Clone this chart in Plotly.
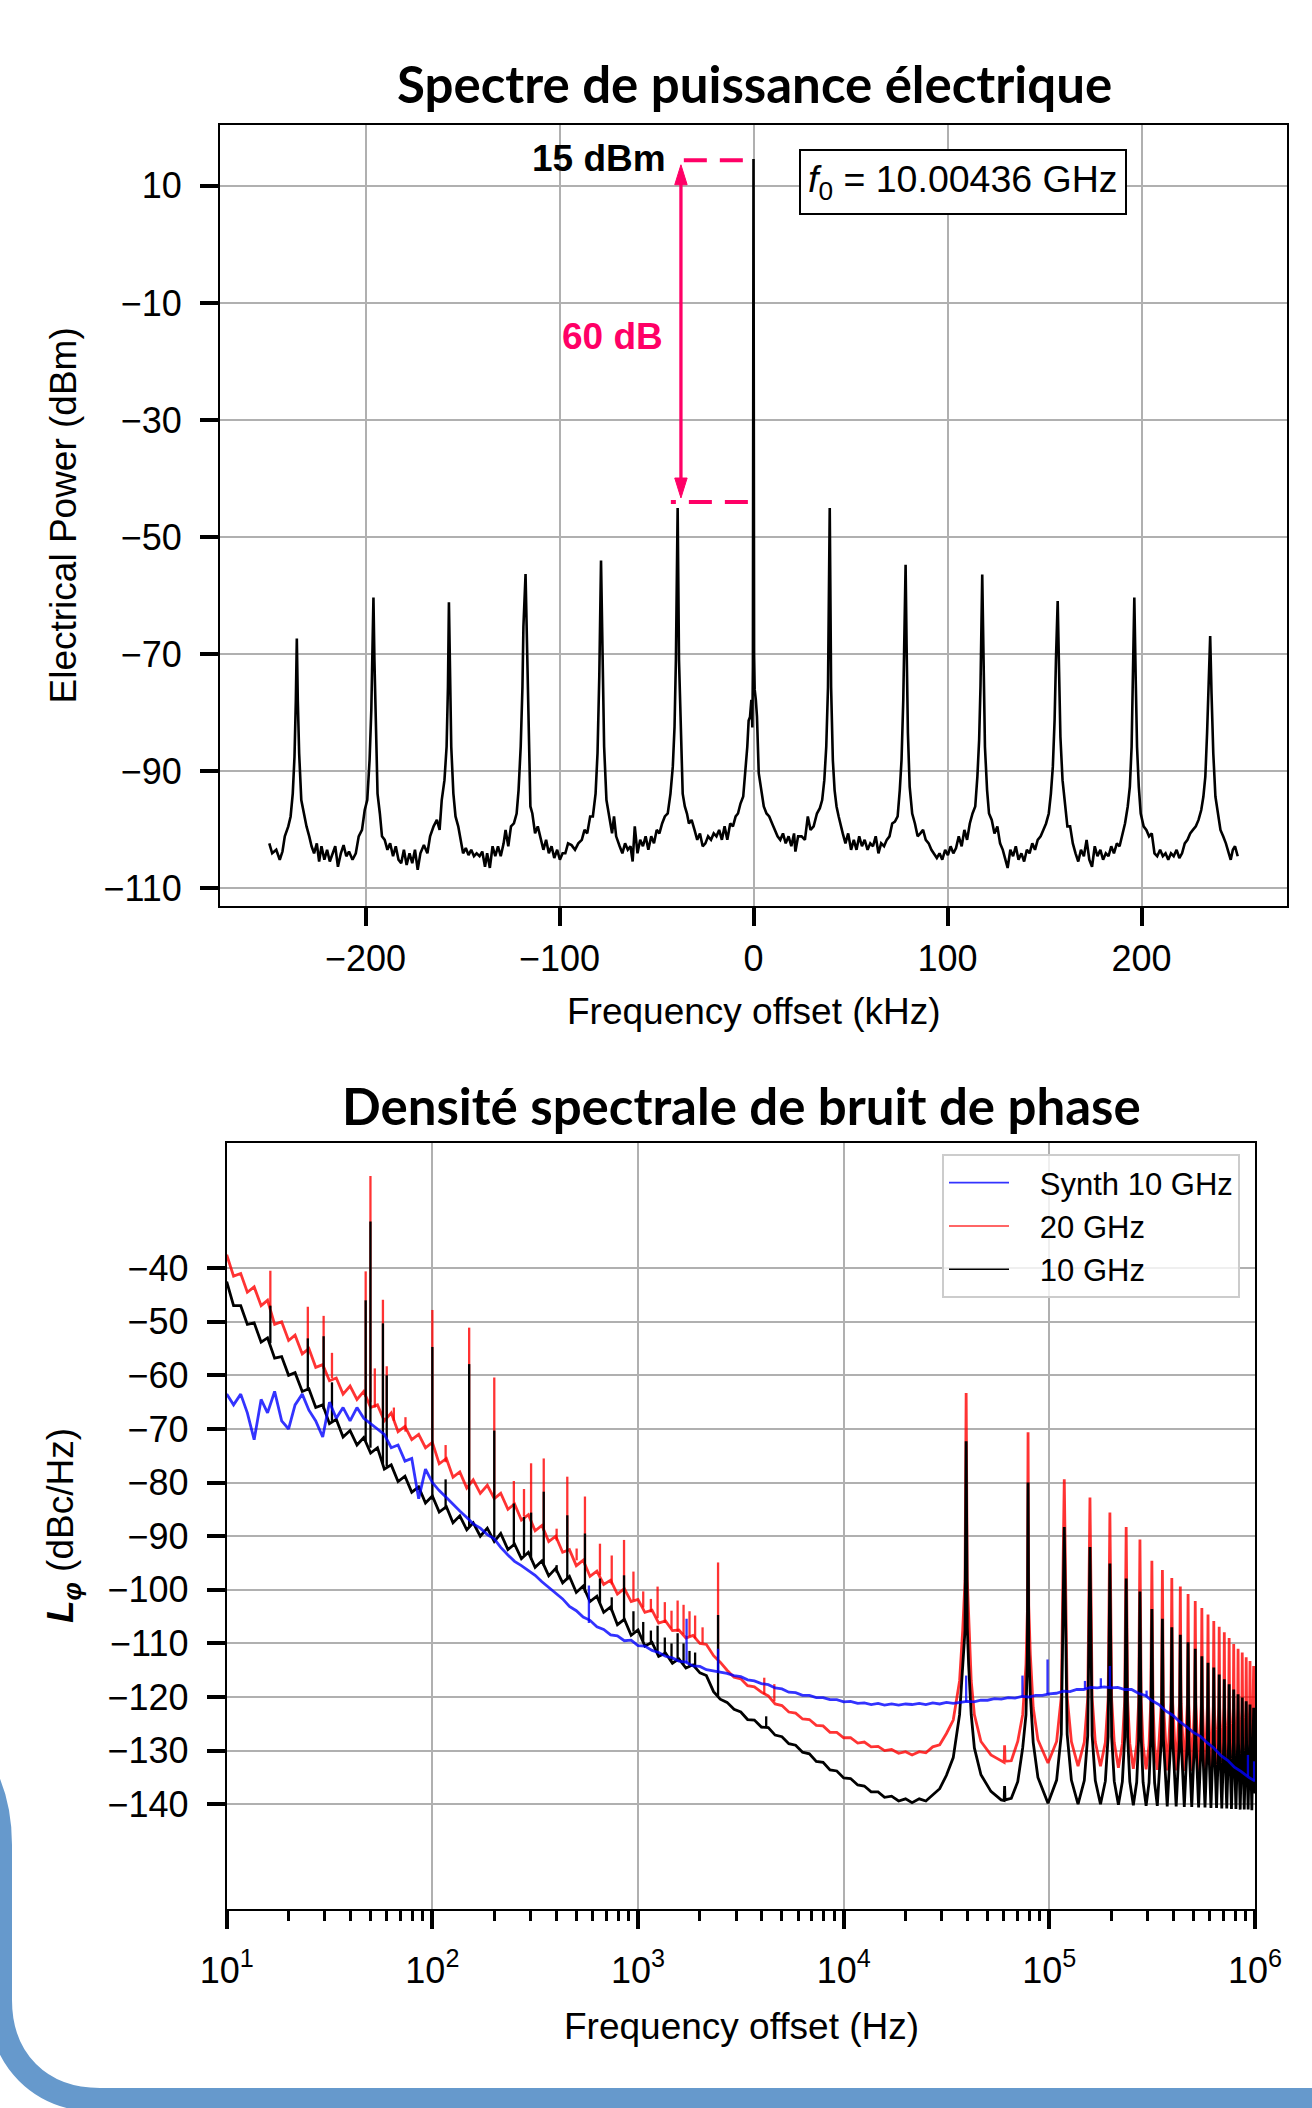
import plotly.graph_objects as go

W, H = 1312, 2108
SANS = "Liberation Sans, Arial, sans-serif"
TITLE_FONT = "Lato, Open Sans, sans-serif"
PINK = "#ff0066"
RED = "rgba(255,0,0,0.8)"
BLUE = "rgba(0,0,255,0.8)"
BLACK = "black"

# ---------------- Top panel: electrical power spectrum ----------------
top_offset_khz = [
    -249.6, -248.1, -246.0, -244.2, -242.8, -241.6, -239.8, -238.6, -237.5, -236.6,
    -235.9, -235.4, -234.9, -234.2, -233.1, -231.9, -230.4, -229.0, -227.8, -226.5,
    -225.1, -223.9, -222.7, -221.2, -219.8, -218.4, -217.0, -215.6, -214.2, -212.7,
    -211.3, -209.9, -208.5, -206.7, -205.0, -203.5, -201.8, -200.4, -199.1, -197.9,
    -197.0, -196.5, -195.9, -195.4, -194.7, -193.8, -192.6, -191.5, -190.1, -188.7,
    -187.3, -185.8, -184.4, -183.0, -181.6, -180.2, -178.8, -177.3, -175.9, -174.5,
    -173.1, -171.7, -169.9, -168.1, -166.7, -164.9, -163.2, -161.8, -160.7, -159.3,
    -158.2, -157.5, -157.0, -156.5, -155.8, -154.7, -153.6, -152.2, -150.8, -149.7,
    -148.3, -146.9, -145.5, -144.1, -142.7, -141.2, -139.8, -138.4, -137.3, -135.9,
    -134.5, -133.1, -131.7, -130.3, -128.8, -127.8, -126.4, -125.0, -123.5, -122.1,
    -121.1, -120.0, -119.1, -118.6, -117.5, -116.8, -116.1, -115.0, -114.0, -112.6,
    -111.2, -109.7, -108.3, -106.9, -105.5, -104.1, -102.7, -101.2, -99.8, -98.4,
    -97.0, -95.6, -93.8, -92.0, -90.3, -88.5, -87.1, -85.7, -84.2, -82.8,
    -81.4, -80.4, -79.5, -78.6, -77.9, -77.0, -75.8, -74.3, -72.9, -71.9,
    -70.8, -69.0, -67.6, -66.2, -64.8, -63.4, -62.3, -61.2, -59.8, -58.4,
    -57.0, -55.6, -54.2, -52.7, -51.3, -49.9, -48.5, -47.1, -45.7, -44.2,
    -42.8, -41.6, -40.7, -40.0, -39.1, -38.4, -37.5, -36.5, -35.4, -34.3,
    -33.3, -31.9, -30.4, -29.0, -27.6, -26.2, -24.8, -23.4, -21.9, -20.5,
    -19.1, -17.7, -16.3, -14.9, -13.5, -12.0, -10.6, -9.2, -8.0, -6.7,
    -5.3, -4.2, -3.2, -2.5, -1.8, -1.1, -0.6, -0.3, 0.0, 0.3,
    0.6, 1.2, 1.8, 2.7, 3.9, 5.3, 6.7, 8.1, 9.6, 11.0,
    12.4, 13.8, 15.2, 16.6, 18.1, 19.5, 20.9, 21.6, 23.0, 24.8,
    26.5, 28.0, 29.4, 31.0, 32.7, 34.2, 35.4, 36.5, 37.5, 38.4,
    39.3, 40.0, 40.9, 41.8, 42.8, 43.9, 45.0, 46.0, 47.4, 48.8,
    50.3, 51.7, 53.1, 54.5, 55.9, 57.3, 58.8, 60.2, 61.6, 63.0,
    64.4, 65.8, 67.3, 68.7, 70.1, 71.5, 72.9, 74.3, 75.4, 76.3,
    77.2, 77.9, 78.4, 78.9, 79.6, 80.5, 81.8, 83.2, 84.6, 86.0,
    87.4, 88.8, 90.3, 91.7, 93.1, 94.5, 95.9, 97.3, 98.8, 100.2,
    101.6, 103.0, 104.4, 105.8, 107.3, 108.7, 110.1, 111.5, 112.9, 114.3,
    115.4, 116.3, 117.0, 117.9, 118.6, 119.3, 120.4, 121.4, 122.8, 124.2,
    125.7, 127.1, 128.5, 129.9, 131.0, 132.4, 133.8, 135.2, 136.6, 138.1,
    139.5, 140.9, 142.3, 143.7, 145.1, 146.5, 148.0, 149.4, 150.8, 152.2,
    153.3, 154.3, 155.2, 155.9, 156.8, 157.5, 158.2, 159.3, 160.4, 161.8,
    163.2, 164.6, 166.0, 167.4, 168.8, 170.3, 171.7, 173.1, 174.5, 175.9,
    177.3, 178.8, 180.2, 181.6, 183.0, 184.4, 185.8, 187.3, 188.7, 190.1,
    191.5, 192.9, 194.0, 194.9, 195.6, 196.3, 197.0, 197.7, 198.6, 199.6,
    201.1, 202.5, 203.9, 205.3, 206.7, 208.1, 209.6, 211.0, 212.4, 213.8,
    215.2, 216.6, 218.1, 219.5, 220.9, 222.3, 223.7, 225.1, 226.5, 228.0,
    229.4, 230.8, 231.9, 232.9, 233.8, 234.5, 235.4, 236.1, 237.0, 238.1,
    239.3, 240.7, 242.1, 243.5, 245.0, 246.0, 247.1, 248.2, 249.6,
]
top_power_dbm = [
    -102.3, -104.0, -103.4, -105.1, -103.7, -101.1, -99.4, -97.7, -93.8, -87.5,
    -77.8, -67.3, -77.8, -86.9, -94.9, -97.2, -99.4, -101.1, -102.8, -104.0,
    -102.3, -105.4, -102.8, -105.1, -103.4, -105.4, -104.0, -102.8, -106.3, -104.0,
    -102.6, -104.5, -103.7, -105.1, -104.0, -101.1, -100.0, -96.6, -94.9, -88.1,
    -79.5, -70.0, -60.3, -71.0, -83.5, -93.8, -97.2, -101.1, -101.7, -103.4,
    -102.3, -104.5, -102.8, -105.1, -105.7, -103.4, -106.0, -104.0, -105.7, -103.4,
    -106.8, -104.0, -102.6, -104.0, -101.1, -99.4, -98.3, -100.0, -94.9, -91.5,
    -85.8, -75.6, -61.1, -75.6, -85.8, -93.8, -97.7, -99.4, -101.7, -104.0,
    -103.1, -104.3, -103.4, -104.5, -104.0, -104.5, -103.7, -106.3, -104.0, -106.5,
    -102.8, -104.5, -102.8, -104.5, -102.3, -100.0, -102.8, -99.4, -98.9, -97.2,
    -93.2, -85.8, -75.6, -65.3, -56.3, -68.2, -81.3, -96.0, -97.2, -100.6,
    -99.4, -101.7, -103.4, -101.7, -104.0, -102.8, -104.8, -103.4, -105.1, -104.0,
    -104.0, -102.3, -102.6, -103.4, -102.3, -101.7, -100.0, -100.6, -97.7, -97.7,
    -93.8, -86.9, -73.9, -54.0, -71.0, -85.8, -94.9, -97.7, -100.6, -97.7,
    -101.1, -102.8, -104.0, -102.3, -103.4, -102.8, -105.4, -99.4, -104.0, -101.7,
    -102.8, -101.1, -103.4, -101.1, -102.3, -100.0, -100.6, -98.9, -97.7, -97.2,
    -93.8, -89.2, -82.4, -71.0, -45.0, -71.0, -84.1, -93.8, -96.0, -97.2,
    -98.9, -98.3, -100.0, -101.7, -100.6, -102.8, -102.3, -101.1, -101.7, -100.6,
    -101.1, -100.0, -101.7, -99.4, -101.7, -98.9, -99.4, -97.7, -97.2, -95.5,
    -94.3, -90.3, -85.8, -81.3, -80.7, -77.8, -82.5, -72.0, 14.6, -70.0,
    -76.0, -77.8, -80.7, -90.3, -93.2, -96.0, -97.2, -97.7, -98.9, -100.0,
    -101.1, -101.7, -100.6, -102.3, -101.1, -102.8, -100.6, -103.7, -101.1, -101.1,
    -101.7, -97.7, -100.0, -99.4, -97.2, -96.3, -94.9, -91.5, -85.8, -75.6,
    -45.0, -75.6, -88.1, -93.2, -96.0, -97.7, -99.4, -100.6, -102.3, -100.6,
    -103.4, -101.7, -103.4, -101.1, -102.8, -101.7, -103.4, -102.3, -102.8, -101.1,
    -104.0, -102.3, -102.8, -101.7, -101.1, -98.9, -98.6, -97.7, -93.2, -88.1,
    -77.8, -65.3, -54.7, -68.2, -83.5, -92.6, -97.2, -98.9, -101.1, -100.6,
    -100.0, -101.7, -102.3, -103.4, -104.0, -104.8, -104.0, -105.1, -103.4, -104.3,
    -102.8, -104.0, -103.1, -101.1, -102.8, -100.0, -101.7, -98.9, -97.2, -96.0,
    -90.9, -84.7, -75.6, -56.4, -71.0, -85.8, -93.2, -97.2, -98.3, -100.6,
    -99.4, -102.3, -103.4, -105.1, -106.5, -103.4, -104.5, -102.8, -105.1, -104.0,
    -105.4, -103.4, -104.0, -102.3, -103.4, -101.7, -101.1, -100.0, -98.9, -97.2,
    -93.8, -89.2, -81.3, -71.0, -60.9, -72.7, -84.1, -91.5, -94.9, -99.4,
    -99.4, -102.3, -104.0, -105.4, -103.4, -104.5, -101.7, -105.1, -106.3, -102.8,
    -104.5, -103.4, -105.1, -104.0, -104.5, -102.8, -104.0, -102.3, -102.8, -100.6,
    -98.9, -96.0, -92.6, -85.8, -75.6, -60.3, -73.9, -85.8, -92.6, -97.2,
    -99.4, -100.0, -101.1, -100.6, -104.0, -104.5, -103.4, -104.5, -104.0, -105.1,
    -104.0, -104.5, -103.4, -104.8, -104.0, -102.3, -101.7, -100.6, -100.0, -99.4,
    -98.3, -96.6, -94.3, -90.9, -83.5, -75.6, -66.9, -76.7, -86.9, -94.3,
    -97.2, -100.0, -101.1, -102.3, -104.0, -105.1, -103.4, -102.8, -104.5,
]
top_xticks = [-200, -100, 0, 100, 200]
top_yticks = [10, -10, -30, -50, -70, -90, -110]

# ---------------- Bottom panel: phase noise ----------------
# shared frequency grid (Hz) up to ~34 kHz
f_grid = [
    10, 10.8, 11.7, 12.6, 13.6, 14.7, 15.8, 17.1, 18.5, 20,
    21.5, 23.3, 25.1, 27.1, 29.3, 31.6, 34.1, 36.8, 39.8, 43,
    46.4, 50.1, 54.1, 58.4, 63.1, 68.1, 73.6, 79.4, 85.8, 92.6,
    100, 108, 117, 126, 136, 147, 158, 171, 185, 200,
    215, 233, 251, 271, 293, 316, 341, 368, 398, 430,
    464, 501, 541, 584, 631, 681, 736, 794, 858, 926,
    1000, 1080, 1170, 1260, 1360, 1470, 1580, 1710, 1850, 2000,
    2150, 2330, 2510,
    2710, 2930, 3160, 3410, 3680, 3980, 4300, 4640, 5010, 5410,
    5840, 6310, 6810, 7360, 7940, 8580, 9260, 10000, 10800, 11700,
    12600, 13600, 14700, 15800, 17100, 18500, 20000, 21500, 23300, 25100,
    27100, 29300, 31600, 34100,
]
red_grid = [
    -37.5, -41.5, -41, -44.5, -43.5, -47, -46, -50.5, -50, -53.5,
    -52.5, -56, -55, -58.5, -58, -61, -60.5, -63.5, -62, -64.5,
    -63, -66, -65.5, -68.5, -67, -70.5, -69.5, -72, -71, -73.5,
    -72.5, -76.5, -75.5, -79, -78, -81, -79.5, -82, -80.5, -83,
    -82, -85, -84, -87, -86, -89, -88, -91, -90, -93,
    -92.5, -95.5, -94.5, -97.5, -96.5, -99, -98.2, -100.8, -99.8, -102.2,
    -101.8, -104.2, -103.8, -106.2, -105.8, -107.6, -107.5, -109, -108.5, -110,
    -110.2, -112.3, -113.5,
    -115, -116.3, -116.6, -117.9, -118.1, -119.1, -119.8, -121.3, -121.6, -122.8,
    -123, -124.1, -124.2, -125.3, -125.4, -126.6, -126.6, -127.6, -127.6, -128.6,
    -128.4, -129.3, -129.2, -130, -129.8, -130.5, -130.2, -130.8, -130.2, -130.4,
    -129.3, -128.9, -126.8, -124.3,
]
black_grid = [
    -42.5, -47, -47, -50.5, -50.2, -53.8, -53, -56.8, -56.5, -60,
    -59.5, -63, -62.5, -66, -65.5, -69, -68.2, -71.5, -70.3, -73,
    -71.6, -74.5, -73.5, -77.5, -76.7, -79.8, -78.8, -81.8, -80.8, -83.8,
    -82.5, -85.5, -84.5, -87.5, -86.2, -88.8, -87.5, -90, -88.5, -91,
    -89.5, -92.5, -91.5, -94.2, -93, -95.8, -94.6, -97.4, -96, -98.7,
    -97.5, -100.5, -99.3, -102.2, -101.2, -104.2, -103.2, -106.5, -105.5, -108.5,
    -107.5, -110.5, -109.8, -112.4, -111.8, -113.7, -112.9, -114.6, -114, -115.5,
    -116, -119, -120.4,
    -121, -122.3, -122.8, -124.2, -124.3, -125.6, -125.7, -127.1, -127.4, -128.7,
    -129, -130.3, -130.6, -132, -132.2, -133.6, -133.8, -135.1, -135.2, -136.4,
    -136.6, -137.7, -137.7, -138.7, -138.5, -139.4, -139, -139.7, -139, -139.4,
    -138.2, -137.1, -134.6, -131.3,
]
blue_grid = [
    -63.5, -65.5, -63.5, -67, -72, -64.5, -67, -63, -68.5, -70,
    -65.5, -63.5, -66.5, -68.5, -71.5, -65, -68, -66, -68.5, -66,
    -68, -69, -70, -71, -73.5, -73, -76, -75.5, -83, -77.5,
    -80, -81.5, -82.8, -84.1, -85.3, -86.5, -87.7, -88.5, -89.7, -90.5,
    -92.1, -93.5, -94.7, -95.5, -96.5, -97.3, -98.5, -99.5, -100.6, -101.7,
    -103.1, -103.9, -105.1, -105.7, -106.9, -107.4, -108.4, -108.6, -109.5, -109.4,
    -110.4, -110.5, -111.3, -111.7, -112.4, -112.7, -113.3, -113.5, -114.2, -114.3,
    -114.9, -115.1, -115.4,
    -115.6, -116, -116.2, -116.8, -117, -117.5, -117.7, -118.3, -118.5, -119.1,
    -119.2, -119.7, -119.7, -120.1, -120.1, -120.5, -120.5, -120.9, -120.8, -121.2,
    -121.1, -121.4, -121.2, -121.5, -121.3, -121.5, -121.3, -121.4, -121.2, -121.4,
    -121.1, -121.3, -121.0, -121.2,
]

# high-frequency part of the synthesizer curve
blue_f_hf = [
    36800, 39800, 43000, 46400, 50100, 54100, 58400, 63100, 68100, 73600,
    79400, 85800, 92600, 100000, 108000, 117000, 126000, 136000, 147000, 158000,
    171000, 185000, 200000, 215000, 233000, 251000, 271000, 293000, 316000, 341000,
    368000, 398000, 430000, 464000, 501000, 541000, 584000, 631000, 681000, 736000,
    794000, 858000, 926000, 1000000,
]
blue_hf = [
    -121, -120.8, -120.9, -120.6, -120.6, -120.3, -120.4, -120.1, -120.2, -119.9,
    -120, -119.7, -119.7, -119.4, -119.3, -118.9, -119, -118.6, -118.6, -118.2,
    -118.3, -118.1, -118.3, -118.2, -118.6, -118.6, -119.3, -119.7, -120.7, -121.4,
    -122.6, -123.4, -124.6, -125.5, -126.6, -127.3, -128.5, -129.5, -130.9, -131.8,
    -133.1, -133.9, -134.9, -135.7,
]

# harmonic comb region (shared by the 20 GHz and 10 GHz curves)
f_harm = [
    36600, 37900, 38900, 39400, 39900, 40500, 41700, 43200, 46500, 52000,
    58300, 60300, 60600, 60900, 65300, 70200, 74200, 77000, 78200, 78800,
    79400, 80800, 83500, 88000, 98500,
    108500, 114300, 118200, 122100, 128000, 137900,
    147900, 153700, 157600, 161500, 167300, 177300,
    187200, 193100, 197000, 200900, 206800, 216700,
    226500, 232500, 236400, 240300, 246200, 256100,
    265900, 271900, 275800, 279700, 285600, 295500,
    305300, 311300, 315200, 319100, 325000, 334900,
    350700, 354600, 358500, 374300,
    390100, 394000, 397900, 413700,
    429500, 433400, 437300, 453100,
    468900, 472800, 476700, 492500,
    508300, 512200, 516100, 531900,
    547700, 551600, 555500, 571300,
    587100, 591000, 594900, 610700,
    626500, 630400, 634300, 650100,
    665900, 669800, 673700, 689500,
    705300, 709200, 713100, 728900,
    744700, 748600, 752500, 768300,
    784100, 788000, 791900, 807700,
    823500, 827400, 831300, 847100,
    862900, 866800, 870700, 886500,
    902300, 906200, 910100, 925900,
    941700, 945600, 949500, 965300,
    981100, 985000, 988900, 1000000,
]
red_harm = [
    -117, -107.6, -98.3, -63.3, -98, -104.5, -117, -123.3, -128.3, -130.8,
    -132, -132.2, -129, -132, -131.9, -128.3, -123.3, -113.9, -104, -70.6,
    -103, -112, -122, -128, -132.3,
    -128.3, -120, -79.4, -120, -128.3, -132.9,
    -128.4, -120.2, -82.8, -120.2, -128.4, -132.9,
    -128.5, -120.4, -85.6, -120.4, -128.5, -133.2,
    -128.7, -120.6, -88.3, -120.6, -128.7, -133.4,
    -128.9, -120.8, -90.6, -120.8, -128.9, -133.5,
    -129, -121, -94.6, -121, -129, -133.6,
    -121, -96.3, -121, -133.7,
    -121.1, -97.8, -121.1, -133.7,
    -121.2, -99.4, -121.2, -133.8,
    -121.3, -100.8, -121.3, -133.8,
    -121.4, -102.1, -121.4, -133.9,
    -121.5, -103.4, -121.5, -133.9,
    -121.6, -104.6, -121.6, -134,
    -121.7, -105.8, -121.7, -134,
    -121.8, -106.9, -121.8, -134,
    -121.9, -107.9, -121.9, -134.1,
    -122, -109, -122, -134.1,
    -122.1, -110.1, -122.1, -134.2,
    -122.2, -111, -122.2, -134.2,
    -122.3, -111.7, -122.3, -134.2,
    -122.4, -112.6, -122.4, -134.3,
    -122.5, -113.3, -122.5, -134.3,
    -122.6, -114.2, -122.6, -131,
]
black_harm = [
    -123.3, -113.9, -107.6, -72.3, -107, -113.9, -123.3, -129.5, -134.5, -137.6,
    -139.2, -139.3, -136.6, -139.2, -138.9, -135.8, -129.5, -123.3, -112, -80,
    -111, -119.5, -128.5, -135, -139.8,
    -135.5, -127, -88.3, -127, -135.5, -140,
    -135.6, -127.2, -92, -127.2, -135.6, -140,
    -135.7, -127.4, -95.1, -127.4, -135.7, -140.1,
    -135.8, -127.5, -97.9, -127.5, -135.8, -140.2,
    -135.9, -127.6, -100.3, -127.6, -135.9, -140.3,
    -136, -127.7, -103.6, -127.7, -136, -140.3,
    -127.8, -105.4, -127.8, -140.4,
    -127.8, -107, -127.8, -140.4,
    -127.9, -108.4, -127.9, -140.5,
    -128, -109.8, -128, -140.5,
    -128, -111, -128, -140.6,
    -128.1, -112.4, -128.1, -140.6,
    -128.2, -113.6, -128.2, -140.7,
    -128.2, -114.5, -128.2, -140.7,
    -128.3, -115.8, -128.3, -140.8,
    -128.3, -116.7, -128.3, -140.8,
    -128.4, -117.6, -128.4, -140.9,
    -128.4, -118.6, -128.4, -140.9,
    -128.5, -119.5, -128.5, -141,
    -128.5, -120.1, -128.5, -141,
    -128.6, -120.8, -128.6, -141,
    -128.6, -121.4, -128.6, -141.1,
    -128.7, -122, -128.7, -138,
]

# narrow spurs (frequency, floor level, spur top)
red_spike_f = [16.3, 24.8, 29.6, 32.5, 47.4, 50, 52.5, 57.5, 60, 65,
               74, 100, 116, 151, 200, 249, 279, 302, 348, 402,
               453, 503, 552, 653, 745, 855, 950, 1060, 1155, 1245,
               1350, 1455, 1558, 1665, 1780, 1895, 2060, 2450, 4110, 4600]
red_spike_base = [-47.5, -55.5, -58.8, -60.5, -64, -65, -66, -67.5, -67.8, -68.5,
                  -70.5, -73.2, -76.2, -80.2, -82.4, -84.5, -86.3, -87.3, -89, -90.8,
                  -92.8, -94.5, -95.5, -97.3, -99, -100.3, -101.9, -103.3, -104.2, -105.3,
                  -106.2, -107.2, -107.8, -108.3, -108.7, -109.1, -109.9, -113, -119.5, -120.8]
red_spike_top = [-40.5, -47.2, -48.9, -55.8, -40.6, -22.8, -58.7, -45.9, -58.3, -66,
                 -67.8, -47.8, -73, -51.1, -60.4, -79.7, -81.2, -76.4, -75.5, -88.6,
                 -78.9, -92.3, -82.6, -91.4, -93.6, -90.7, -96.6, -100.3, -101.7, -99.4,
                 -102.3, -103.9, -102, -102.8, -104, -104.8, -107, -94.9, -116.4, -117.6]

black_spike_f = [16.3, 24.8, 29.6, 32.5, 47.4, 50, 57.5, 60, 100, 116,
                 151, 200, 249, 279, 302, 348, 402, 453, 552, 653,
                 745, 855, 950, 1060, 1155, 1245, 1350, 1455, 1558, 1665,
                 1780, 1895, 2450, 4200]
black_spike_base = [-54, -62.8, -66.3, -68.5, -72.3, -73.5, -76.5, -77, -83.2, -85,
                    -88.2, -90.3, -92, -93.6, -94.4, -95.5, -96.8, -98.2, -100.5, -102.5,
                    -104, -106, -107.8, -109.5, -110.2, -111.8, -112.2, -113.2, -113.4, -113.8,
                    -114.3, -114.6, -119.8, -125.6]
black_spike_top = [-47, -53.1, -52.7, -61.3, -46, -31.3, -50.3, -60, -54.7, -79.4,
                   -57.9, -70.3, -83.9, -86.4, -85.6, -81.7, -95.4, -86.1, -89.5, -97.9,
                   -101.4, -97.3, -104, -106, -107.6, -106.7, -108.9, -110, -108.1, -110,
                   -111.4, -111.7, -104.7, -123.6]

blue_spike_f = [577, 1722, 2450, 39400, 74000, 98000, 149000, 178000, 197000, 297000, 924000, 990000]
blue_spike_base = [-106.2, -113.6, -115.2, -120.9, -120, -119.5, -118.5, -118.2, -118.2, -119.9, -134.8, -135.6]
blue_spike_top = [-99.2, -105.4, -111, -116, -116, -113, -117, -116.5, -114.2, -118.8, -130.8, -132]

bottom_xticks = [10, 100, 1000, 10000, 100000, 1000000]
bottom_xticktext = ["10<sup>1</sup>", "10<sup>2</sup>", "10<sup>3</sup>",
                    "10<sup>4</sup>", "10<sup>5</sup>", "10<sup>6</sup>"]
bottom_yticks = [-40, -50, -60, -70, -80, -90, -100, -110, -120, -130, -140]
series_names = ["Synth 10 GHz", "20 GHz", "10 GHz"]

assert len(top_offset_khz) == len(top_power_dbm)
assert len(f_grid) == len(red_grid) == len(black_grid) == len(blue_grid)
assert len(f_harm) == len(red_harm) == len(black_harm)
assert len(blue_f_hf) == len(blue_hf)
assert len(red_spike_f) == len(red_spike_base) == len(red_spike_top)
assert len(black_spike_f) == len(black_spike_base) == len(black_spike_top)
assert len(blue_spike_f) == len(blue_spike_base) == len(blue_spike_top)


def spikes(f, base, top):
    xs, ys = [], []
    for a, b, c in zip(f, base, top):
        xs += [a, a, None]
        ys += [b, c, None]
    return xs, ys


fig = go.Figure()

# legend-only entries (thin lines, like the original legend)
NBSP = "\u00a0\u00a0\u00a0"
for name, col in zip(series_names, [BLUE, RED, BLACK]):
    fig.add_trace(go.Scatter(x=[None], y=[None], mode="lines", name=NBSP + name,
                             line=dict(color=col, width=1.6), xaxis="x2", yaxis="y2"))

# top spectrum
fig.add_trace(go.Scatter(x=top_offset_khz, y=top_power_dbm, mode="lines",
                         line=dict(color="black", width=2.6), showlegend=False,
                         xaxis="x", yaxis="y"))

LW = 2.8
SW = 2.3
# 20 GHz (red)
fig.add_trace(go.Scatter(x=f_grid + f_harm, y=red_grid + red_harm, mode="lines",
                         line=dict(color=RED, width=LW), showlegend=False, xaxis="x2", yaxis="y2"))
sx, sy = spikes(red_spike_f, red_spike_base, red_spike_top)
fig.add_trace(go.Scatter(x=sx, y=sy, mode="lines", line=dict(color=RED, width=SW),
                         showlegend=False, xaxis="x2", yaxis="y2"))
# 10 GHz (black)
fig.add_trace(go.Scatter(x=f_grid + f_harm, y=black_grid + black_harm, mode="lines",
                         line=dict(color=BLACK, width=LW), showlegend=False, xaxis="x2", yaxis="y2"))
sx, sy = spikes(black_spike_f, black_spike_base, black_spike_top)
fig.add_trace(go.Scatter(x=sx, y=sy, mode="lines", line=dict(color=BLACK, width=SW),
                         showlegend=False, xaxis="x2", yaxis="y2"))
# synthesizer (blue)
fig.add_trace(go.Scatter(x=f_grid + blue_f_hf, y=blue_grid + blue_hf, mode="lines",
                         line=dict(color=BLUE, width=LW), showlegend=False, xaxis="x2", yaxis="y2"))
sx, sy = spikes(blue_spike_f, blue_spike_base, blue_spike_top)
fig.add_trace(go.Scatter(x=sx, y=sy, mode="lines", line=dict(color=BLUE, width=SW),
                         showlegend=False, xaxis="x2", yaxis="y2"))


def px(x):
    return x / W


def py(y):
    return 1 - y / H


axis_style = dict(
    showline=True, linecolor="black", linewidth=2, mirror=True,
    ticks="outside", ticklen=18, tickwidth=3.5, tickcolor="black",
    showgrid=True, gridcolor="#b0b0b0", gridwidth=1.8, zeroline=False,
    automargin=False,
    tickfont=dict(family=SANS, size=36, color="black"),
)

minor_vals = [m * 10 ** e for e in range(1, 6) for m in range(2, 10)]

fig.update_layout(
    width=W, height=H,
    margin=dict(l=0, r=0, t=0, b=0, autoexpand=False),
    paper_bgcolor="white", plot_bgcolor="white",
    font=dict(family=SANS, size=36, color="black"),
    xaxis=dict(axis_style, domain=[px(220), px(1287)], range=[-275, 275],
               tickmode="array", tickvals=top_xticks, anchor="y", ticklabelstandoff=2),
    yaxis=dict(axis_style, domain=[py(906), py(125)], range=[-113.0, 20.4],
               tickmode="array", tickvals=top_yticks, anchor="x", ticklabelstandoff=11),
    xaxis2=dict(axis_style, type="log", domain=[px(226.7), px(1255)], range=[1, 6],
                tickmode="array", tickvals=bottom_xticks, ticktext=bottom_xticktext,
                anchor="y2", ticklabelstandoff=10,
                minor=dict(tickmode="array", tickvals=minor_vals, ticks="outside",
                           ticklen=10, tickwidth=2.5, tickcolor="black", showgrid=False)),
    yaxis2=dict(axis_style, domain=[py(1909.3), py(1142.7)], range=[-159.6, -16.6],
                tickmode="array", tickvals=bottom_yticks, anchor="x2", ticklabelstandoff=11),
    showlegend=True,
    legend=dict(x=px(1240), y=py(1154), xanchor="right", yanchor="top",
                bgcolor="rgba(255,255,255,0.8)", bordercolor="#cccccc", borderwidth=2,
                font=dict(family=SANS, size=31, color="black"), itemwidth=60,
                tracegroupgap=0),
)

annotations = [
    dict(text="<b>Spectre de puissance électrique</b>", x=px(754), y=py(83),
         font=dict(family=TITLE_FONT, size=51, color="black")),
    dict(text="<b>Densité spectrale de bruit de phase</b>", x=px(741), y=py(1105),
         font=dict(family=TITLE_FONT, size=51, color="black")),
    dict(text="Frequency offset (kHz)", x=px(753.5), y=py(1011)),
    dict(text="Electrical Power (dBm)", x=px(63), y=py(515.5), textangle=-90),
    dict(text="Frequency offset (Hz)", x=px(741), y=py(2026)),
    dict(text="<b><i>L</i></b><sub><b><i>φ</i></b></sub> (dBc/Hz)", x=px(63), y=py(1526), textangle=-90),
    dict(text="<i>f</i><sub>0</sub> = 10.00436 GHz", x=px(963), y=py(182),
         bordercolor="black", borderwidth=2, borderpad=7, bgcolor="white",
         font=dict(family=SANS, size=37.5, color="black")),
]
for a in annotations:
    a.setdefault("xref", "paper")
    a.setdefault("yref", "paper")
    a.setdefault("showarrow", False)
    a.setdefault("xanchor", "center")
    a.setdefault("yanchor", "middle")
    a.setdefault("font", dict(family=SANS, size=37, color="black"))
    fig.add_annotation(**a)

fig.add_annotation(text="<b>15 dBm</b>", x=-44.0, y=14.66, xref="x", yref="y",
                   xanchor="right", yanchor="middle", showarrow=False,
                   font=dict(family=SANS, size=37, color="black"))
fig.add_annotation(text="<b>60 dB</b>", x=-72.6, y=-15.7, xref="x", yref="y",
                   xanchor="center", yanchor="middle", showarrow=False,
                   font=dict(family=SANS, size=37, color=PINK))

shapes = [
    dict(type="line", xref="x", yref="y", x0=-5.5, x1=-42.0, y0=14.4, y1=14.4,
         line=dict(color=PINK, width=4, dash="23px,13px")),
    dict(type="line", xref="x", yref="y", x0=-2.9, x1=-42.6, y0=-44.0, y1=-44.0,
         line=dict(color=PINK, width=4, dash="23px,13px")),
    dict(type="line", xref="x", yref="y", x0=-37.4, x1=-37.4, y0=10.8, y1=-40.5,
         line=dict(color=PINK, width=3.3)),
    dict(type="path", xref="x", yref="y",
         path="M -37.4,13.6 L -40.6,10.2 L -34.2,10.2 Z", fillcolor=PINK,
         line=dict(color=PINK, width=1)),
    dict(type="path", xref="x", yref="y",
         path="M -37.4,-43.3 L -40.6,-39.9 L -34.2,-39.9 Z", fillcolor=PINK,
         line=dict(color=PINK, width=1)),
]


def P(x, y):
    return f"{px(x):.5f},{py(y):.5f}"


frame_path = ("M " + P(-70, 1715) + " Q " + P(0, 1760) + " " + P(0, 1845) +
              " L " + P(0, 2000) + " C " + P(0, 2060) + " " + P(40, 2100) + " " + P(100, 2100) +
              " L " + P(1400, 2100))
shapes.append(dict(type="path", xref="paper", yref="paper", path=frame_path,
                   line=dict(color="#6699cc", width=24), layer="above"))
for s in shapes:
    fig.add_shape(**s)

fig.write_html("out.html", config={"displayModeBar": False},
               post_script="document.body.style.margin='0px';")
